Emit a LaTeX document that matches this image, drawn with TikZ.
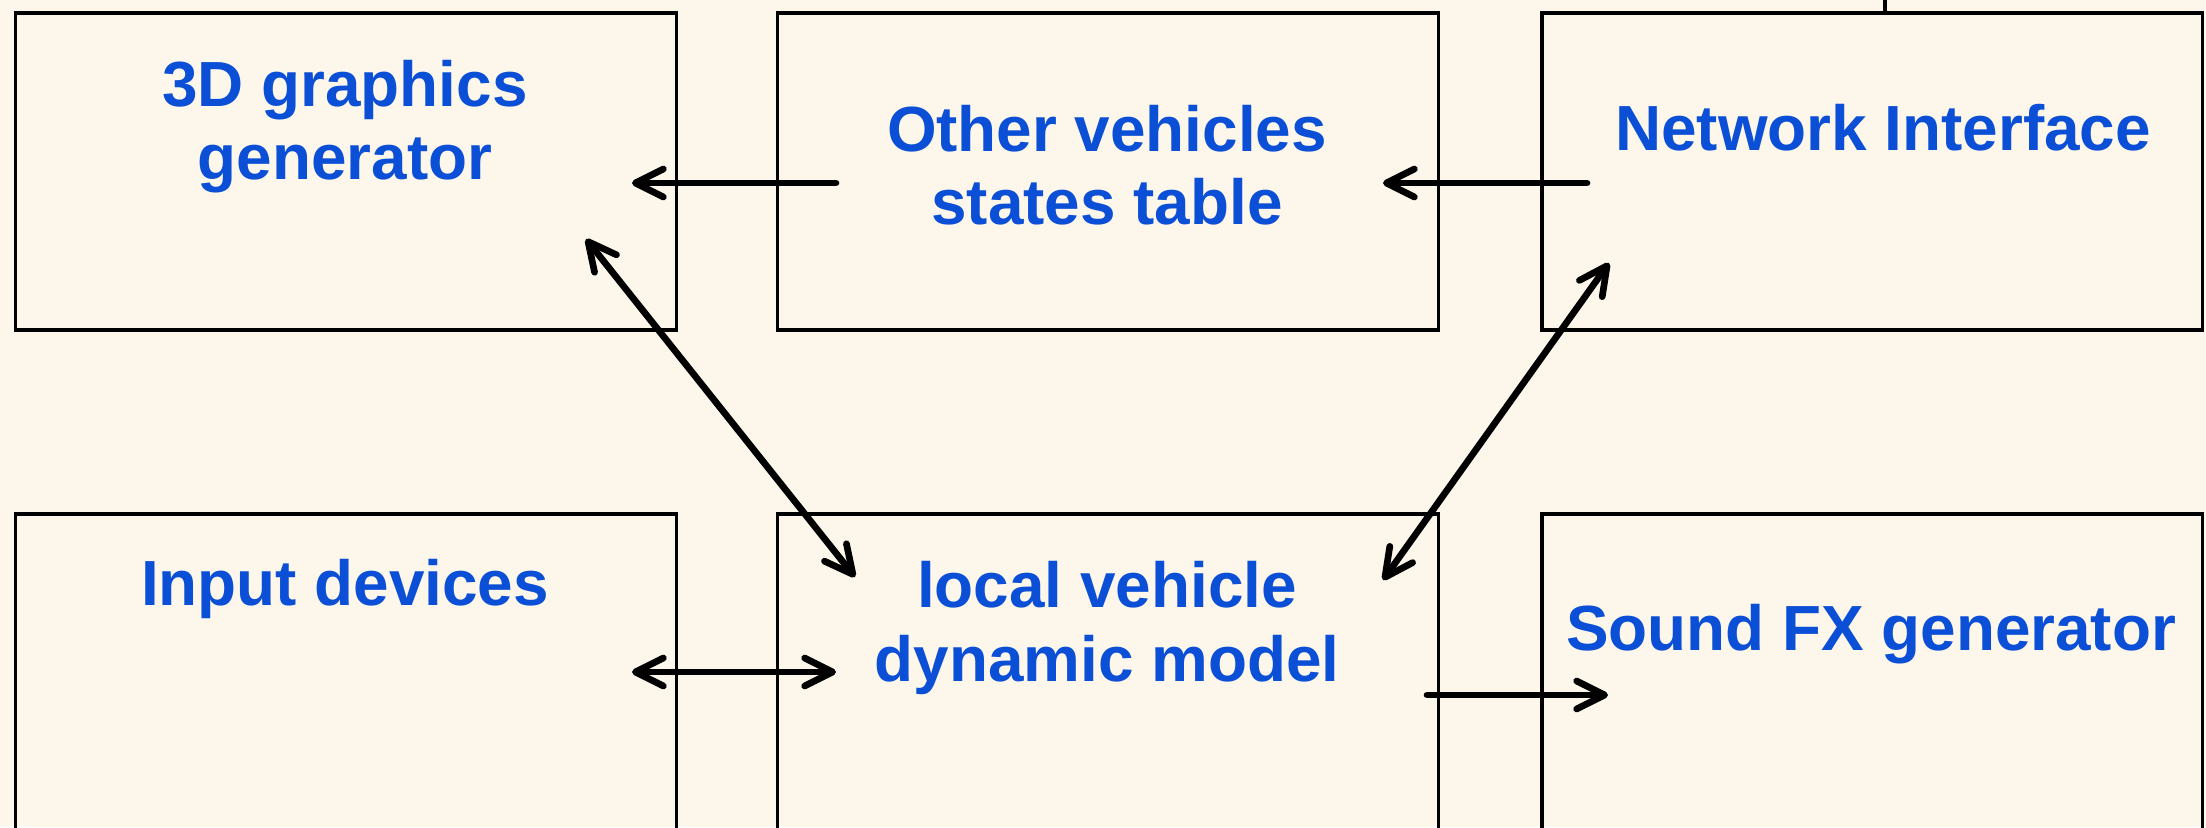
\documentclass[tikz,border=0pt]{standalone}
\usepackage{fontspec}
\setmainfont{Liberation Sans}
\usetikzlibrary{arrows.meta}
\definecolor{paper}{HTML}{FDF6EA}
\definecolor{labelblue}{HTML}{0A4FD6}
\begin{document}
\begin{tikzpicture}[x=0.01cm, y=-0.01cm,
  block/.style={draw=black, line width=0.95pt, minimum width=6.6cm,
                minimum height=3.17cm, inner sep=0pt, outer sep=0pt},
  caption/.style={text=labelblue, align=center, inner sep=0pt,
                  font=\fontsize{18.15}{20.8}\selectfont\bfseries},
  barb/.tip={Straight Barb[length=0.28cm, width=0.28cm, line cap=round, round]},
  link/.style={line width=1.9pt, line cap=round, arrows={-barb}},
  dlink/.style={link, arrows={barb-barb}}]

% canvas
\useasboundingbox[fill=paper] (0,0) rectangle (2206,827);
\clip (0,0) rectangle (2206,827);

% upper row of modules
\node[block] (gfx)   at (346,171.5)  {};
\node[block] (table) at (1108,171.5) {};
\node[block] (net)   at (1872,171.5) {};
% lower row of modules (runs off the bottom edge)
\node[block] (input) at (346,672.5)  {};
\node[block] (model) at (1108,672.5) {};
\node[block] (sound) at (1872,672.5) {};

% module names
\node[caption] (gfxtext)   at (345,126.5) {3D graphics\\generator};
\node[caption] (tabletext) at (1107,165)  {Other vehicles\\states table};
\node[caption] (nettext)   at (1883,128)  {Network Interface};
\node[caption] (inputtext) at (345,589)   {Input devices};
\node[caption] (modeltext) at (1107,628)  {local vehicle\\dynamic model};
\node[caption] (soundtext) at (1871,634)  {Sound FX generator};

% external network link
\coordinate (uplink) at (1885,0);
\draw[line width=0.95pt] (uplink) -- (uplink |- net.north);

% connector end points
\coordinate (tabOut)  at (836,183);
\coordinate (gfxIn)   at (632,183);
\coordinate (netOut)  at (1587,183);
\coordinate (tabIn)   at (1383,183);
\coordinate (gfxEnd)  at (586,239);
\coordinate (modA)    at (855,577);
\coordinate (netEnd)  at (1609,263);
\coordinate (modB)    at (1383,580);
\coordinate (inEnd)   at (632,672);
\coordinate (modC)    at (836,672);
\coordinate (modOut)  at (1427,695);
\coordinate (sndIn)   at (1608,695);

% data flow
\draw[link]  (tabOut) -- (gfxIn);
\draw[link]  (netOut) -- (tabIn);
\draw[dlink] (gfxEnd) -- (modA);
\draw[dlink] (netEnd) -- (modB);
\draw[dlink] (inEnd)  -- (modC);
\draw[link]  (modOut) -- (sndIn);
\end{tikzpicture}
\end{document}
